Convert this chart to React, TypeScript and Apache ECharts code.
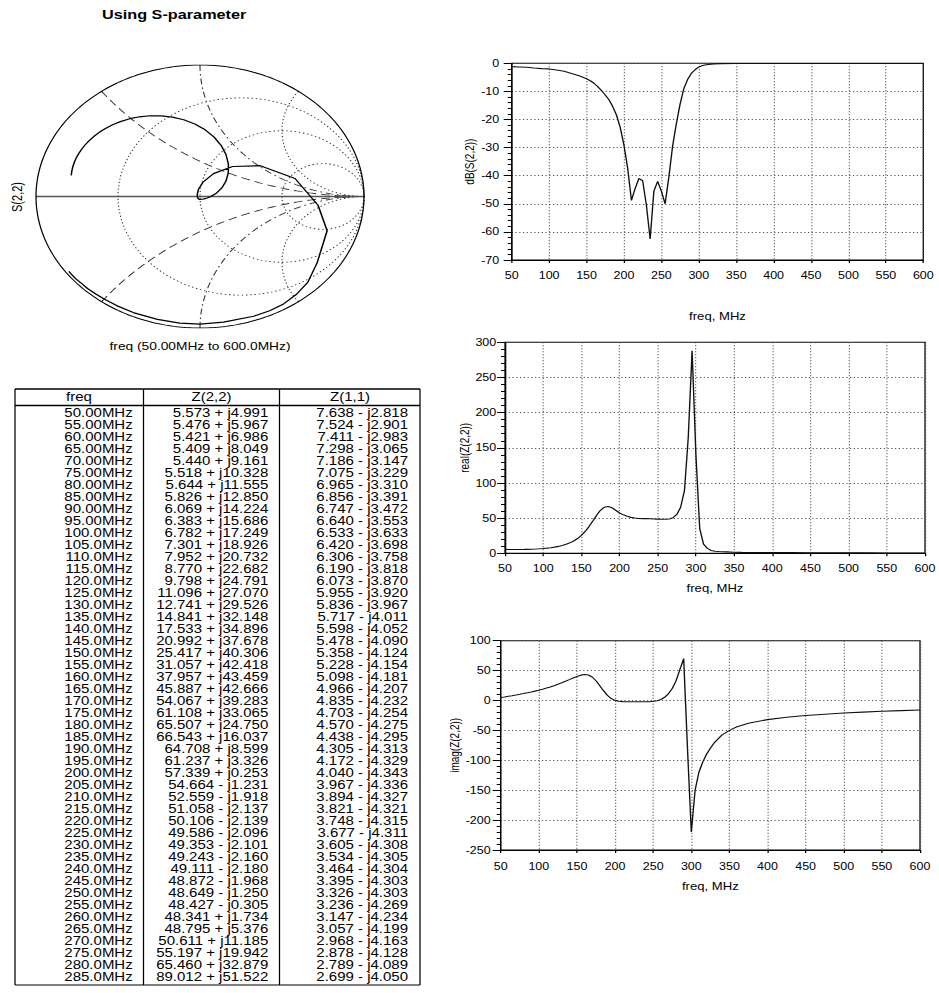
import { useEffect, useRef } from "react";
import * as echarts from "echarts";

// Sweep points listed in the Z-parameter table (MHz)
const tableFreq = [
  50, 55, 60, 65, 70, 75, 80, 85, 90, 95, 100, 105, 110, 115, 120, 125, 130, 135,
  140, 145, 150, 155, 160, 165, 170, 175, 180, 185, 190, 195, 200, 205, 210, 215,
  220, 225, 230, 235, 240, 245, 250, 255, 260, 265, 270, 275, 280, 285,
];
// Z(2,2), ohms
const z22Re = [
  5.573, 5.476, 5.421, 5.409, 5.44, 5.518, 5.644, 5.826, 6.069, 6.383, 6.782, 7.301,
  7.952, 8.77, 9.798, 11.096, 12.741, 14.841, 17.533, 20.992, 25.417, 31.057, 37.957,
  45.887, 54.067, 61.108, 65.507, 66.543, 64.708, 61.237, 57.339, 54.664, 52.559,
  51.058, 50.106, 49.586, 49.353, 49.243, 49.111, 48.872, 48.649, 48.427, 48.341,
  48.795, 50.611, 55.197, 65.46, 89.012,
];
const z22Im = [
  4.991, 5.967, 6.986, 8.049, 9.161, 10.328, 11.555, 12.85, 14.224, 15.686, 17.249,
  18.926, 20.732, 22.682, 24.791, 27.07, 29.526, 32.148, 34.896, 37.678, 40.306,
  42.418, 43.459, 42.666, 39.283, 33.065, 24.75, 16.037, 8.599, 3.326, 0.253, -1.231,
  -1.918, -2.137, -2.139, -2.096, -2.101, -2.16, -2.18, -1.968, -1.25, -0.305, 1.734,
  5.376, 11.185, 19.942, 32.879, 51.522,
];
// Z(1,1), ohms
const z11Re = [
  7.638, 7.524, 7.411, 7.298, 7.186, 7.075, 6.965, 6.856, 6.747, 6.64, 6.533, 6.42,
  6.306, 6.19, 6.073, 5.955, 5.836, 5.717, 5.598, 5.478, 5.358, 5.228, 5.098, 4.966,
  4.835, 4.703, 4.57, 4.438, 4.305, 4.172, 4.04, 3.967, 3.894, 3.821, 3.748, 3.677,
  3.605, 3.534, 3.464, 3.395, 3.326, 3.236, 3.147, 3.057, 2.968, 2.878, 2.789, 2.699,
];
const z11Im = [
  -2.818, -2.901, -2.983, -3.065, -3.147, -3.229, -3.31, -3.391, -3.472, -3.553,
  -3.633, -3.698, -3.758, -3.818, -3.87, -3.92, -3.967, -4.011, -4.052, -4.09, -4.124,
  -4.154, -4.181, -4.207, -4.232, -4.254, -4.275, -4.295, -4.313, -4.329, -4.343,
  -4.336, -4.327, -4.321, -4.315, -4.311, -4.308, -4.305, -4.304, -4.303, -4.303,
  -4.269, -4.234, -4.199, -4.163, -4.128, -4.089, -4.05,
];

// Z(2,2) above the tabulated band (MHz, ohms)
const hiFreq = [
  290, 295, 300, 305, 310, 315, 320, 325, 330, 340, 350, 360, 375, 400, 425, 450, 475,
  500, 525, 550, 575, 600,
];
const hiRe = [
  165, 288, 140, 35, 13, 7, 4, 3, 2.5, 2, 1.5, 1.3, 1.2, 1, 0.9, 0.8, 0.7, 0.6, 0.6,
  0.5, 0.5, 0.5,
];
const hiIm = [
  70, -80, -220, -150, -120, -103, -90, -80, -71, -58, -50, -44, -38, -32, -28, -25,
  -23, -21, -19.5, -18, -17, -16,
];

// dB(S(2,2)) over the full sweep
const dbFreq = [
  50, 60, 70, 80, 90, 100, 110, 120, 130, 140, 150, 155, 160, 165, 170, 175, 180, 185,
  190, 195, 200, 205, 210, 215, 220, 225, 230, 235, 240, 245, 250, 255, 260, 265, 270,
  275, 280, 285, 290, 295, 300, 305, 310, 320, 330, 350, 400, 450, 500, 550, 600,
];
const dbS22 = [
  -1.2, -1.3, -1.4, -1.7, -1.9, -2.0, -2.4, -2.8, -3.6, -4.4, -5.5, -6.2, -7.1, -8.3,
  -9.7, -11.3, -13.0, -15.4, -18.4, -22.8, -29.1, -37.4, -48.8, -44.5, -41.0, -41.8,
  -50.5, -62.5, -45.5, -42.0, -45.5, -50.0, -40.5, -29.5, -21.5, -14.5, -9.0, -5.8,
  -3.6, -2.3, -1.3, -0.8, -0.5, -0.2, -0.1, -0.05, -0.05, -0.05, -0.05, -0.05, -0.05,
];

const Z0 = 50;
const PAGE_W = 939;
const PAGE_H = 993;
// the whole sheet is drawn narrow and stretched sideways, as the printed sheet is
const SX = 1.25;
const W = PAGE_W / SX;
const px = (v: number) => v / SX;

const FONT = '"Liberation Sans", Arial, Helvetica, sans-serif';

// reflection coefficient of a normalised impedance r + jx
function gammaOf(r: number, x: number): [number, number] {
  const nr = r - 1;
  const dr = r + 1;
  const den = dr * dr + x * x;
  return [(nr * dr + x * x) / den, (x * dr - nr * x) / den];
}

function resistanceCircle(r: number): number[][] {
  const pts: number[][] = [];
  const n = 360;
  for (let i = 0; i <= n; i++) {
    const u = -Math.PI / 2 + (Math.PI * i) / n;
    pts.push(gammaOf(r, Math.tan(u)));
  }
  return pts;
}

function reactanceArc(x: number): number[][] {
  const pts: number[][] = [];
  const n = 240;
  for (let i = 0; i <= n; i++) {
    const u = ((Math.PI / 2) * i) / n;
    pts.push(gammaOf(Math.tan(u), x));
  }
  return pts;
}

function unitCircle(): number[][] {
  const pts: number[][] = [];
  const n = 360;
  for (let i = 0; i <= n; i++) {
    const t = (2 * Math.PI * i) / n;
    pts.push([Math.cos(t), Math.sin(t)]);
  }
  return pts;
}

const fmtFreq = (f: number) => (f < 100 ? f.toFixed(2) : f.toFixed(1)) + "MHz";
const fmtZ = (re: number, im: number) =>
  `${re.toFixed(3)} ${im < 0 ? "-" : "+"} j${Math.abs(im).toFixed(3)}`;

function buildOption() {
  const sweepFreq = tableFreq.concat(hiFreq);
  const sweepRe = z22Re.concat(hiRe);
  const sweepIm = z22Im.concat(hiIm);
  const s22 = sweepRe.map((r, i) => gammaOf(r / Z0, sweepIm[i] / Z0));

  const smith = (data: number[][], lineStyle: any, z = 1) => ({
    type: "line",
    xAxisIndex: 0,
    yAxisIndex: 0,
    data,
    symbol: "none",
    showSymbol: false,
    silent: true,
    z,
    lineStyle,
  });
  const dotted = { color: "#333", width: 0.9, type: [1.2, 2.2] };
  const dashed = { color: "#333", width: 0.9, type: [7, 4] };
  const dashDot = { color: "#333", width: 0.9, type: [6, 3, 1.5, 3] };

  const plots = [
    { left: 511.7, right: 923.3, top: 63.3, bottom: 260, min: -70, max: 0, step: 10, name: "dB(S(2,2))", xm: 10, ng: 51, ym: 10, yg: 10 },
    { left: 505, right: 925, top: 342.3, bottom: 553.3, min: 0, max: 300, step: 50, name: "real(Z(2,2))", xm: 10, ng: 29.5, ym: 7, yg: 6 },
    { left: 500.7, right: 920, top: 640.7, bottom: 850, min: -250, max: 100, step: 50, name: "imag(Z(2,2))", xm: 11, ng: 31, ym: 8, yg: 6 },
  ];

  const labelStyle = { color: "#000", fontSize: 10, fontFamily: FONT };
  const nameStyle = { color: "#000", fontSize: 10.5, fontFamily: FONT };
  const gridDots = { color: "#555", width: 1, type: [1, 2] };

  const grids: any[] = [
    { left: px(36), top: 65, width: px(328), height: 263, show: false, containLabel: false, outerBoundsMode: "none" },
    ...plots.map((p) => ({
      left: px(p.left),
      top: p.top,
      width: px(p.right - p.left),
      height: p.bottom - p.top,
      show: true,
      borderColor: "#000",
      borderWidth: 1,
      backgroundColor: "transparent",
      containLabel: false,
      outerBoundsMode: "none",
    })),
  ];

  const xAxes: any[] = [
    { gridIndex: 0, type: "value", min: -1, max: 1, show: false },
    ...plots.map((p, k) => ({
      gridIndex: k + 1,
      type: "value",
      min: 50,
      max: 600,
      interval: 50,
      axisLine: { show: true, onZero: false, lineStyle: { color: "#000", width: 1 } },
      axisTick: { show: true, length: 3, lineStyle: { color: "#000" } },
      axisLabel: { ...labelStyle, margin: p.xm },
      splitLine: { show: true, lineStyle: gridDots },
      name: "freq, MHz",
      nameLocation: "middle",
      nameGap: p.ng,
      nameTextStyle: nameStyle,
    })),
  ];

  const yAxes: any[] = [
    { gridIndex: 0, type: "value", min: -1, max: 1, show: false },
    ...plots.map((p, k) => ({
      gridIndex: k + 1,
      type: "value",
      min: p.min,
      max: p.max,
      interval: p.step,
      axisLine: { show: true, onZero: false, lineStyle: { color: "#000", width: 1 } },
      axisTick: { show: true, length: px(8), lineStyle: { color: "#000" } },
      minorTick: { show: true, splitNumber: 5, length: px(4), lineStyle: { color: "#000" } },
      axisLabel: { ...labelStyle, margin: p.ym },
      splitLine: { show: true, lineStyle: gridDots },
      name: p.name,
      nameLocation: "middle",
      nameRotate: 90,
      nameGap: p.yg,
      nameTextStyle: { ...nameStyle, fontSize: 10 },
    })),
  ];

  const trace = { color: "#111", width: 1.1 };
  const plotSeries = [
    dbFreq.map((f, i) => [f, dbS22[i]]),
    sweepFreq.map((f, i) => [f, sweepRe[i]]),
    sweepFreq.map((f, i) => [f, sweepIm[i]]),
  ].map((data, k) => ({
    type: "line",
    xAxisIndex: k + 1,
    yAxisIndex: k + 1,
    data,
    symbol: "none",
    showSymbol: false,
    silent: true,
    z: 3,
    lineStyle: trace,
  }));

  const series: any[] = [
    ...[1 / 3, 1, 3].map((r) => smith(resistanceCircle(r), dotted)),
    smith(reactanceArc(0.5), dashed),
    smith(reactanceArc(-0.5), dashed),
    smith(reactanceArc(1), dashDot),
    smith(reactanceArc(-1), dashDot),
    smith(reactanceArc(2), dotted),
    smith(reactanceArc(-2), dotted),
    smith([[-1, 0], [1, 0]], { color: "#555", width: 1.6 }, 2),
    smith(unitCircle(), { color: "#000", width: 1 }, 2),
    smith(s22, { color: "#000", width: 1.2 }, 4),
    ...plotSeries,
  ];

  // list table under the Smith chart
  const T = { left: 15, right: 420, top: 389, head: 405.5, bottom: 985, c1: 143.5, c2: 279.5 };
  const rowY0 = 413.5;
  const rowPitch = 11.98;
  const line = (x1: number, y1: number, x2: number, y2: number, w = 1) => ({
    type: "line",
    silent: true,
    shape: { x1: px(x1), y1, x2: px(x2), y2 },
    style: { stroke: "#000", lineWidth: w },
  });
  const text = (s: string, x: number, y: number, align: string, extra: any = {}) => ({
    type: "text",
    silent: true,
    x: px(x),
    y,
    style: {
      text: s,
      fill: "#000",
      fontSize: 12,
      fontFamily: FONT,
      align,
      textAlign: align,
      verticalAlign: "middle",
      textVerticalAlign: "middle",
      ...extra,
    },
  });

  const graphic: any[] = [
    text("Using S-parameter", 102, 15, "left", { fontSize: 13, fontWeight: "bold" }),
    {
      ...text("S(2,2)", 18, 197, "center", { fontSize: 11 }),
      rotation: Math.PI / 2,
    },
    text("freq (50.00MHz to 600.0MHz)", 200, 346, "center", { fontSize: 11 }),
    line(T.left, T.top, T.right, T.top, 1.5),
    line(T.left, T.head, T.right, T.head, 1.5),
    line(T.left, T.bottom, T.right, T.bottom, 1),
    line(T.left, T.top, T.left, T.bottom),
    line(T.c1, T.top, T.c1, T.bottom),
    line(T.c2, T.top, T.c2, T.bottom),
    line(T.right, T.top, T.right, T.bottom),
    text("freq", 79, 397.5, "center"),
    text("Z(2,2)", 211.5, 397.5, "center"),
    text("Z(1,1)", 350, 397.5, "center"),
  ];
  tableFreq.forEach((f, i) => {
    const y = rowY0 + i * rowPitch;
    graphic.push(text(fmtFreq(f), 132.7, y, "right"));
    graphic.push(text(fmtZ(z22Re[i], z22Im[i]), 268.3, y, "right"));
    graphic.push(text(fmtZ(z11Re[i], z11Im[i]), 408, y, "right"));
  });

  return {
    animation: false,
    backgroundColor: "#fff",
    textStyle: { fontFamily: FONT },
    grid: grids,
    xAxis: xAxes,
    yAxis: yAxes,
    series,
    graphic,
  };
}

export default function App() {
  const ref = useRef<HTMLDivElement>(null);
  useEffect(() => {
    const el = ref.current;
    if (!el) return;
    const chart = echarts.init(el, null, { renderer: "svg", width: W, height: PAGE_H });
    chart.setOption(buildOption() as any);
    return () => chart.dispose();
  }, []);
  return (
    <div
      ref={ref}
      style={{
        position: "absolute",
        left: 0,
        top: 0,
        width: `${W}px`,
        height: `${PAGE_H}px`,
        transform: `scaleX(${SX})`,
        transformOrigin: "0 0",
        background: "#fff",
      }}
    />
  );
}
